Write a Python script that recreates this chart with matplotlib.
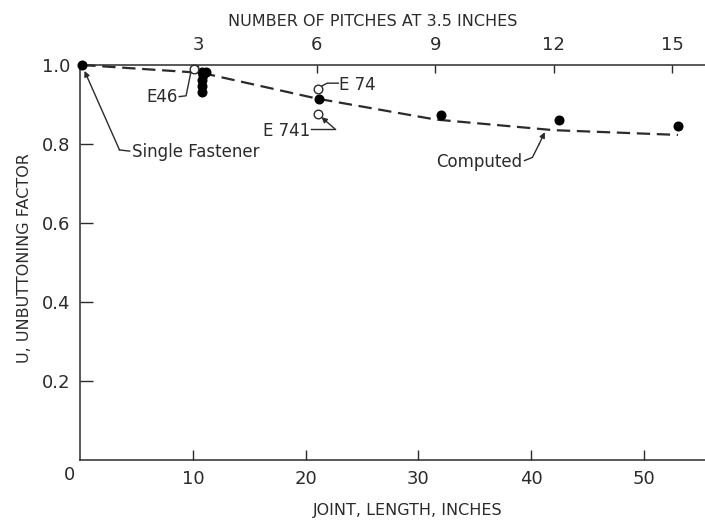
#!/usr/bin/env python3

'''
Unbuttoning factor against joint length, with a second scale on top
giving the number of 3.5 inch pitches
'''

import matplotlib
matplotlib.use('Agg')
import matplotlib.pyplot as plt

PITCH = 3.5

# dashed computed curve
computed_x = [0.2, 10.8, 21.0, 31.5, 42.0, 53.0]
computed_y = [1.0, 0.98, 0.915, 0.862, 0.835, 0.823]

# test points, filled
test_x = [0.2, 10.8, 11.2, 10.9, 10.8, 10.8, 10.8, 21.2, 32.0, 42.5, 53.0]
test_y = [1.0, 0.982, 0.982, 0.975, 0.962, 0.948, 0.932, 0.913, 0.873, 0.862, 0.845]

# open points (E46, E74, E741)
open_x = [10.1, 21.1, 21.1]
open_y = [0.99, 0.94, 0.876]

x_ticks = [10, 20, 30, 40, 50]
y_ticks = [0.2, 0.4, 0.6, 0.8, 1.0]
pitch_ticks = [3, 6, 9, 12, 15]

INK = '#2b2b2b'


def leader(ax, pts, arrow=False):
    '''draws a thin leader line through pts, with an arrowhead on the last one'''
    xs = [p[0] for p in pts]
    ys = [p[1] for p in pts]
    if arrow:
        ax.plot(xs[:-1], ys[:-1], color=INK, lw=1.0, clip_on=False)
        ax.annotate('', xy=pts[-1], xytext=pts[-2],
                    arrowprops=dict(arrowstyle='-|>', color=INK, lw=1.0,
                                    mutation_scale=8, shrinkA=0, shrinkB=0))
    else:
        ax.plot(xs, ys, color=INK, lw=1.0, clip_on=False)


def plot_chart():
    fig = plt.figure(figsize=(7.05, 5.25), dpi=100)
    ax = fig.add_axes([80 / 705, 65 / 525, 625 / 705, 395 / 525])

    ax.plot(computed_x, computed_y, color=INK, lw=1.6, dashes=(6, 3),
            clip_on=False, zorder=2)
    ax.plot(test_x, test_y, 'o', color='black', ms=6.2, clip_on=False, zorder=3)
    ax.plot(open_x, open_y, 'o', mfc='white', mec=INK, mew=1.0, ms=6.2,
            clip_on=False, zorder=3)

    ax.set_xlim(0, 55.4)
    ax.set_ylim(0, 1.0)

    for side in ['left', 'bottom', 'top']:
        ax.spines[side].set_color(INK)
        ax.spines[side].set_linewidth(1.1)
    ax.spines['right'].set_visible(False)

    ax.set_xticks(x_ticks)
    ax.set_xticklabels([str(t) for t in x_ticks])
    ax.set_yticks(y_ticks)
    ax.set_yticklabels(['%.1f' % t for t in y_ticks])
    ax.tick_params(direction='in', length=7, width=1.0, color=INK,
                   labelcolor=INK, labelsize=13, pad=7)
    ax.tick_params(axis='y', length=9)
    ax.text(-0.9, -0.038, '0', ha='center', va='center', fontsize=13,
            color=INK, transform=ax.transData, clip_on=False)

    top = ax.secondary_xaxis('top', functions=(lambda x: x / PITCH,
                                               lambda p: p * PITCH))
    top.set_xticks(pitch_ticks)
    top.tick_params(direction='in', length=6, width=1.0, color=INK,
                    labelcolor=INK, labelsize=13, pad=8)
    top.spines['top'].set_visible(False)

    fig.text(373 / 705, 1 - 21 / 525, 'NUMBER OF PITCHES AT 3.5 INCHES',
             ha='center', va='center', fontsize=11.5, color=INK)
    fig.text(408 / 705, 1 - 510 / 525, 'JOINT, LENGTH, INCHES',
             ha='center', va='center', fontsize=11.5, color=INK)
    fig.text(25 / 705, 1 - 258 / 525, 'U, UNBUTTONING FACTOR',
             ha='center', va='center', rotation=90, fontsize=11.5, color=INK)

    # callouts
    ax.text(4.6, 0.78, 'Single Fastener', ha='left', va='center',
            fontsize=12, color=INK)
    leader(ax, [(4.4, 0.782), (3.5, 0.785), (0.4, 0.985)], arrow=True)

    ax.text(8.7, 0.919, 'E46', ha='right', va='center', fontsize=12, color=INK)
    leader(ax, [(8.8, 0.92), (9.4, 0.922), (9.8, 0.978)])

    ax.text(23.0, 0.949, 'E 74', ha='left', va='center', fontsize=12, color=INK)
    leader(ax, [(22.9, 0.954), (21.9, 0.954), (21.4, 0.946)])

    ax.text(20.4, 0.833, 'E 741', ha='right', va='center', fontsize=12,
            color=INK)
    leader(ax, [(20.5, 0.838), (22.6, 0.838), (21.4, 0.868)], arrow=True)

    ax.text(39.2, 0.754, 'Computed', ha='right', va='center', fontsize=12,
            color=INK)
    leader(ax, [(39.4, 0.758), (40.1, 0.766), (40.7, 0.8), (41.2, 0.83)],
           arrow=True)

    fig.savefig('out.png', dpi=100)


if __name__ == '__main__':
    plot_chart()
